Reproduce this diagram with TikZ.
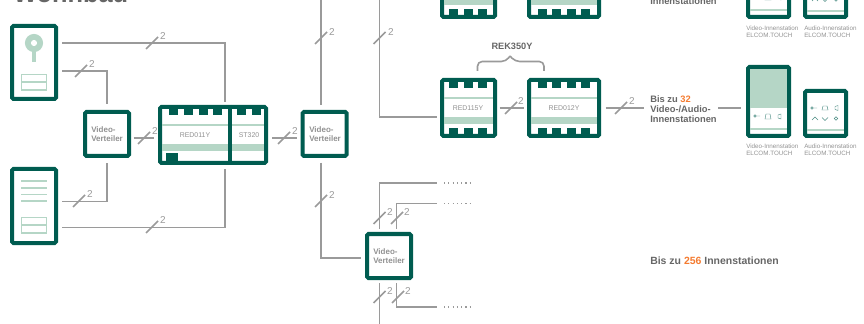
\documentclass[tikz,border=0pt]{standalone}
\usepackage{fontspec}
\setmainfont{Liberation Sans}
\definecolor{teal1}{HTML}{005C50}
\definecolor{mint}{HTML}{B5D6C6}
\definecolor{wiregray}{HTML}{9A9A9A}
\definecolor{txtgray}{HTML}{929292}
\definecolor{boldgray}{HTML}{666666}
\definecolor{orng}{HTML}{F47B30}
\tikzset{
 devbox/.style={draw=teal1,line width=3pt,rounded corners=1pt,fill=white,inner sep=0pt,outer sep=.5\pgflinewidth},
 wire/.style={draw=wiregray,line width=1.3pt},
 tickln/.style={draw=wiregray,line width=1.1pt},
 twolab/.style={text=wiregray,font=\fontsize{7.5}{8}\selectfont,inner sep=0pt},
 vtext/.style={text=txtgray,font=\fontsize{6}{7.2}\selectfont\bfseries,align=left,inner sep=0pt,anchor=west},
 devtext/.style={text=txtgray,font=\fontsize{5.2}{6}\selectfont,inner sep=0pt},
 captext/.style={text=txtgray,font=\fontsize{4.7}{5.6}\selectfont,align=left,inner sep=0pt,anchor=north west},
 boldtext/.style={text=boldgray,font=\fontsize{7}{7.6}\selectfont\bfseries,align=left,inner sep=0pt,anchor=west},
 thin mint/.style={draw=mint,line width=.8pt},
 mintfill/.style={fill=mint,draw=none},
 tooth/.style={fill=teal1,draw=none},
 icon/.style={draw=teal1!70!white,line width=.35pt},
 dotted wire/.style={draw=wiregray,line width=.8pt,dash pattern=on .9pt off 2.3pt},
}
\newcommand{\teeth}[2]{\foreach \q in {#2}{\fill[tooth] (\q,#1) rectangle (\q+9,#1+6);}}
\newcommand{\vertbox}[3]{\node[devbox,minimum width=33pt,minimum height=33pt] (#1) at (#2,#3) {};}
\newcommand{\vlabel}[3]{\node[vtext] (#1) at (#2,#3) {Video-\\Verteiler};}
\newcommand{\redpair}[2]{% name-prefix, y offset
 \node[devbox,minimum width=39.75pt,minimum height=42pt] (#1a) at (468.5,108+#2) {};
 \node[devbox,minimum width=52.5pt,minimum height=42pt] (#1b) at (564,108+#2) {};
 \teeth{82+#2}{449,464,478}\teeth{128+#2}{449,464,478}
 \teeth{82+#2}{538,552,567,581}\teeth{128+#2}{538,552,567,581}
 \draw[thin mint] (444,98+#2) -- (493,98+#2);
 \draw[thin mint] (531,98+#2) -- (597,98+#2);
 \fill[mintfill] (444,117+#2) rectangle (493,124+#2);
 \fill[mintfill] (531,117+#2) rectangle (597,124+#2);
}
\newcommand{\stations}[3]{% prefix, y offset for boxes, y offset for captions
 \node[devbox,minimum width=30.75pt,minimum height=51.75pt] (#1v) at (768.5,101.5+#2) {};
 \node[devbox,minimum width=30.75pt,minimum height=33.75pt] (#1w) at (825.5,113.5+#2) {};
 \fill[mintfill] (750,69+#2) rectangle (787,108+#2);
 \draw[thin mint] (750,129+#2) -- (787,129+#2);
 \draw[thin mint] (807,130+#2) -- (844,130+#2);
 \draw[icon] (755,116+#2) circle (1pt) -- (760,116+#2);
 \draw[icon] (766,114+#2) -- (770,114+#2) -- (771,119+#2) -- (765,119+#2) -- cycle;
 \draw[icon] (781,114+#2) -- (781,119+#2) -- (778,118+#2) -- (778,115+#2) -- cycle;
 \draw[icon] (812,108+#2) circle (1pt) -- (817,108+#2);
 \draw[icon] (823,106+#2) -- (827,106+#2) -- (828,110+#2) -- (822,110+#2) -- cycle;
 \draw[icon] (838,105.5+#2) -- (838,110.5+#2) -- (835,109.5+#2) -- (835,106.5+#2) -- cycle;
 \draw[icon] (812,120+#2) -- (815,117+#2) -- (818,120+#2);
 \draw[icon] (822,117.5+#2) -- (825,120.5+#2) -- (828,117.5+#2);
 \draw[icon] (836,118.5+#2) circle (1.3pt);
 \node[captext] (#1cv) at (746,143.5+#3) {Video-Innenstation\\ELCOM.TOUCH};
 \node[captext] (#1ca) at (804,143.5+#3) {Audio-Innenstation\\ELCOM.TOUCH};
}
\begin{document}
\begin{tikzpicture}[x=.75pt,y=-.75pt]
\useasboundingbox (0,0) rectangle (864,324);
\clip (0,0) rectangle (864,324);
\node[text=boldgray,font=\fontsize{19}{20}\selectfont\bfseries,anchor=base west,inner sep=0pt] (title) at (13,3) {Wohnbau};
\node[devbox,minimum width=33pt,minimum height=54.75pt] (door1) at (34,62.5) {};
\node[devbox,minimum width=33pt,minimum height=55.5pt] (door2) at (34,206) {};
\vertbox{vt1}{107}{134}
\vertbox{vt2}{324.5}{134}
\vertbox{vt3}{389}{256}
\node[devbox,minimum width=79.5pt,minimum height=42pt] (red) at (213,135) {};
\fill[mintfill] (34,43) circle (6.8pt);
\fill[white] (34,43) circle (2.3pt);
\draw[mint,line width=2.4pt] (34,49) -- (34,62);
\draw[thin mint] (21.5,74.5) rectangle (46.5,90) (21.5,82) -- (46.5,82);
\foreach \q in {181,188,194.5,201}{\draw[thin mint] (21,\q) -- (47,\q);}
\draw[thin mint] (21.5,217.5) rectangle (46.5,233) (21.5,225) -- (46.5,225);
\draw[draw=teal1,line width=3pt] (230,105) -- (230,165);
\teeth{109}{169,184,199,213}
\foreach \q in {237,252}{\fill[tooth] (\q,109) rectangle (\q+8.5,115);}
\draw[thin mint] (162,125) -- (228,125) (232,125) -- (264,125);
\fill[mintfill] (162,144) rectangle (228,151);
\fill[mintfill] (232,144) rectangle (264,151);
\fill[tooth] (166,153) rectangle (178,163);
\node[devtext] (t1) at (195,135) {RED011Y};
\node[devtext] (t2) at (249,135) {ST320};
\vlabel{l1}{91}{134}
\vlabel{l2}{309}{134}
\vlabel{l3}{373}{256}
\redpair{top}{-119}
\redpair{mid}{0}
\node[devtext] (t3) at (468,108) {RED115Y};
\node[devtext] (t4) at (564,108) {RED012Y};
\draw[wire,line width=1.2pt,rounded corners=3.5pt] (477.5,71) -- (477.5,61.5) -- (506,61.5) -- (510,56);
\draw[wire,line width=1.2pt,rounded corners=3.5pt] (544,71) -- (544,61.5) -- (515,61.5) -- (510,56);
\node[text=boldgray,font=\fontsize{6.9}{8}\selectfont\bfseries,inner sep=0pt] (rek) at (512,46) {REK350Y};
\stations{top}{-119}{-118}
\stations{mid}{0}{0}
\node[boldtext] (b0) at (650,1) {Innenstationen};
\node[boldtext] (b1) at (650,109) {Bis zu \textcolor{orng}{32}\\Video-/Audio-\\Innenstationen};
\node[boldtext,font=\fontsize{7.85}{9}\selectfont\bfseries] (b2) at (650,261) {Bis zu \textcolor{orng}{256} Innenstationen};
% helper coordinates
\coordinate (e1) at (437,183);
\coordinate (e2) at (437,203.5);
\coordinate (e3) at (437,307);
\coordinate (utop) at (321,0);
\coordinate (utop2) at (379.5,0);
\coordinate (dbot) at (379.5,324);
\coordinate (xa) at (225,0);
\coordinate (xb) at (321,0);
\coordinate (xc) at (379.5,0);
\coordinate (xd) at (396.5,0);
\coordinate (y43) at (0,43);
\coordinate (y71) at (0,71);
\coordinate (y201) at (0,201.5);
\coordinate (y227) at (0,227.5);
\coordinate (y138) at (0,138);
\coordinate (y117) at (0,117);
\coordinate (y108) at (0,108);
\coordinate (y258) at (0,258);
\coordinate (t1end) at (644,108);
\coordinate (t2start) at (718,108);
\draw[dotted wire] (444,183) -- (472,183);
\draw[dotted wire] (444,203.5) -- (472,203.5);
\draw[dotted wire] (444,307) -- (472,307);
% connectors
\draw[wire] ([xshift=3pt]door1.east |- y43) -| ([yshift=2.5pt]red.north -| xa);
\draw[wire] ([xshift=3pt]door1.east |- y71) -| ([yshift=4.5pt]vt1.north);
\draw[wire] ([xshift=3pt]door2.east |- y201) -| ([yshift=-3.5pt]vt1.south);
\draw[wire] ([xshift=3pt]door2.east |- y227) -| ([yshift=-3pt]red.south -| xa);
\draw[wire] ([xshift=2pt]vt1.east |- y138) -- ([xshift=-3pt]red.west |- y138);
\draw[wire] ([xshift=3pt]red.east |- y138) -- ([xshift=-3pt]vt2.west |- y138);
\draw[wire] ([yshift=4pt]vt2.north -| xb) -- (utop);
\draw[wire] ([yshift=-3.5pt]vt2.south -| xb) |- ([xshift=-3pt]vt3.west |- y258);
\draw[wire] (utop2) |- ([xshift=-2pt]mida.west |- y117);
\draw[wire] ([xshift=2pt]mida.east) -- ([xshift=-2pt]midb.west);
\draw[wire] ([xshift=3.5pt]midb.east) -- (t1end);
\draw[wire] (t2start) -- ([xshift=-3.5pt]midv.west |- y108);
\draw[wire] ([yshift=2.5pt]vt3.north -| xc) |- (e1);
\draw[wire] ([yshift=2.5pt]vt3.north -| xd) |- (e2);
\draw[wire] ([yshift=-2.5pt]vt3.south -| xc) -- (dbot);
\draw[wire] ([yshift=-2.5pt]vt3.south -| xd) |- (e3);
% ticks
\foreach \x/\y/\lx/\ly [count=\i] in {152/43/163/36,81/71/92/64,79/201/90/194,152/227/163/220,144/138/155/131,284/138/295/131,321/38/332/32,379.5/38/391/32,511/108/521/101,621/108/632/101,321/201/332/195,379.5/218/390/212,397/218/407/212,379.5/297/390/291,398/297/408/291}{
 \draw[tickln] ([xshift=-4.5pt,yshift=-4.5pt]\x,\y) -- ([xshift=4.5pt,yshift=4.5pt]\x,\y);
 \node[twolab] (two\i) at (\lx,\ly) {2};
}
\end{tikzpicture}
\end{document}
